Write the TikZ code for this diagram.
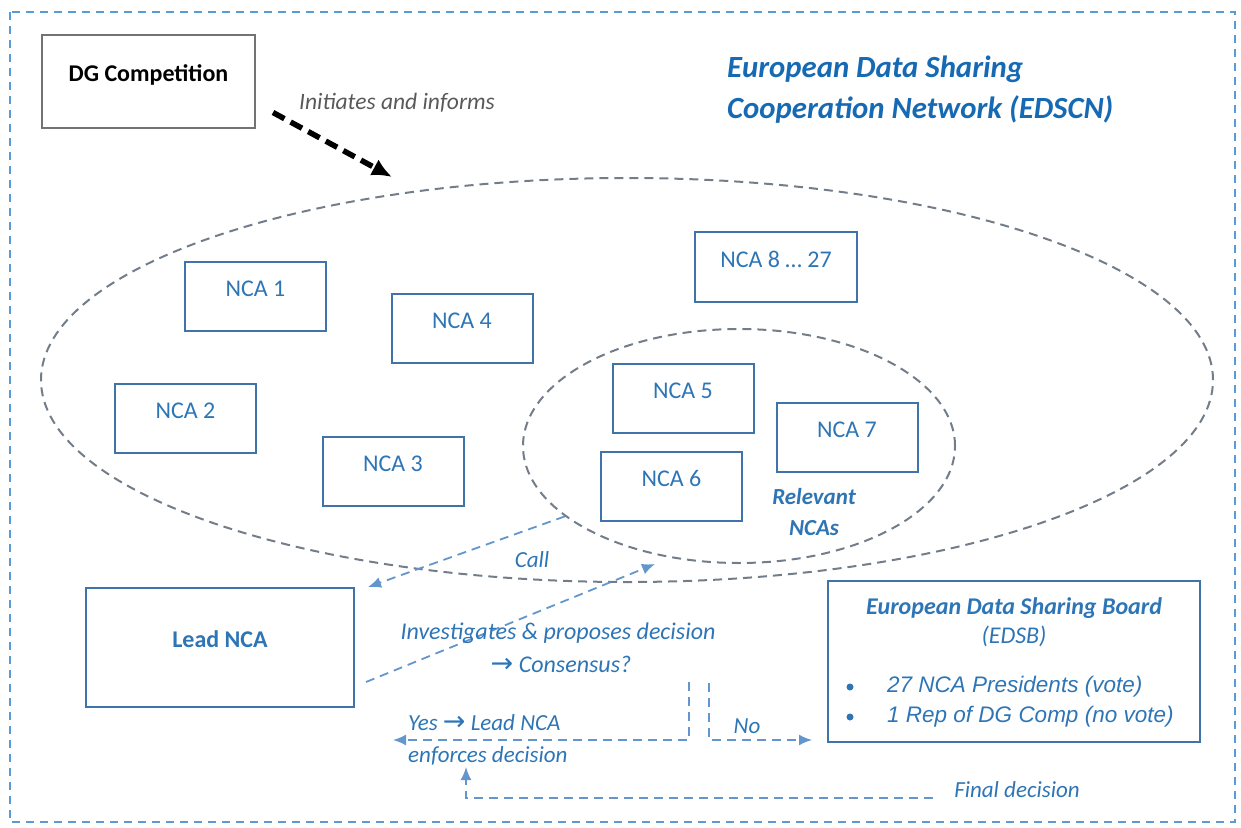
\documentclass[tikz,border=0pt]{standalone}
\usepackage{fontspec}
\setmainfont{Carlito}
\newfontfamily\arialfont{Liberation Sans}
\newfontfamily\arrowfont{DejaVu Sans}
\usetikzlibrary{shapes.geometric,arrows.meta}

\definecolor{ncablue}{RGB}{46,117,182}
\definecolor{boxblue}{RGB}{62,116,168}
\definecolor{ringgray}{RGB}{115,125,138}
\definecolor{flowblue}{RGB}{98,150,204}
\definecolor{frameblue}{RGB}{91,155,213}
\definecolor{titleblue}{RGB}{22,106,180}

\newcommand{\goesto}{{\arrowfont\fontsize{27}{28}\selectfont\upshape →}}

\tikzset{
  ncabox/.style={draw=boxblue,line width=2pt,minimum width=141pt,minimum height=69pt,
    inner sep=0pt,text=ncablue,font=\fontsize{24}{28}\selectfont,
    text height=16pt,text depth=16pt},
  ring/.style={ellipse,draw=ringgray,line width=2pt,dash pattern=on 9pt off 6pt,inner sep=0pt},
  flow/.style={draw=flowblue,line width=1.8pt,dash pattern=on 9pt off 6pt,
    -{Latex[length=13pt,width=11pt]}},
  lbl/.style={text=ncablue,inner sep=0pt,font=\fontsize{23}{28}\selectfont\itshape}
}

\begin{document}
\begin{tikzpicture}[x=1pt,y=-1pt]
\useasboundingbox (0,0) rectangle (1241,827);
\draw[frameblue,line width=1.8pt,dash pattern=on 8pt off 6pt] (10,12) rectangle (1235,822);

% network and the relevant authorities
\node[ring,minimum width=1172pt,minimum height=404pt] (edscn) at (627,380) {};
\node[ring,minimum width=432pt,minimum height=234pt] (relevant) at (739,446) {};

\node[anchor=base west,text=titleblue,inner sep=0pt,
      font=\fontsize{30.8}{36}\selectfont\bfseries\itshape] (title) at (727,77) {European Data Sharing};
\node[anchor=base west,text=titleblue,inner sep=0pt,
      font=\fontsize{30.8}{36}\selectfont\bfseries\itshape] (title2) at (727,118) {Cooperation Network (EDSCN)};

\foreach \n/\x/\y in {1/255.5/296, 2/185.5/418, 3/393/471.5, 4/462/328.5,
                      5/683/398, 6/671.5/486, 7/847/437}
    \node[ncabox] (nca\n) at (\x,\y) {NCA \n};
\node[ncabox,minimum width=162pt,minimum height=70pt] (nca8) at (776,267) {NCA 8 \dots\ 27};

\node[lbl,font=\fontsize{23}{31}\selectfont\bfseries\itshape,align=center] (rellbl) at (814,512) {Relevant\\NCAs};

% DG Competition
\node[draw=black!55,line width=2pt,minimum width=213pt,minimum height=93pt,inner sep=0pt,
      font=\fontsize{24}{28}\selectfont\bfseries,text height=16pt,text depth=16pt] (dg) at (148.5,81.5) {DG Competition};
\node[inner sep=0pt,text=black!65,font=\fontsize{23.5}{28}\selectfont\itshape] (initlbl) at (397,103) {Initiates and informs};
\coordinate (initend) at (392,177);
\draw[line width=5.5pt,dash pattern=on 13pt off 7pt,-{Latex[length=20pt,width=18pt]}]
    ([xshift=17pt,yshift=-31pt]dg.east) -- (initend);

% lead authority
\node[draw=boxblue,line width=2pt,minimum width=268pt,minimum height=119pt,inner sep=0pt,
      text=ncablue,font=\fontsize{24}{28}\selectfont\bfseries,
      text height=16pt,text depth=16pt] (lead) at (220,647.5) {Lead NCA};

\node[lbl] (calllbl) at (532,560) {Call};
\draw[flow] (relevant.202) -- ([xshift=13pt]lead.north east);

\coordinate (invend) at (655,564);
\draw[flow] ([xshift=11pt,yshift=-34.5pt]lead.east) -- (invend);
\node[lbl,font=\fontsize{24}{28}\selectfont\itshape] (invlbl) at (558,633) {Investigates \& proposes decision};
\node[lbl,font=\fontsize{24}{28}\selectfont\itshape] (conslbl) at (561,664) {\goesto\ Consensus?};

% board
\node[draw=boxblue,line width=2pt,minimum width=372pt,minimum height=161pt] (edsb) at (1014,661.5) {};
\node[lbl,font=\fontsize{24}{28}\selectfont\bfseries\itshape] (edsbtitle) at (1014,608) {European Data Sharing Board};
\node[lbl,font=\fontsize{24}{28}\selectfont\itshape] (edsbsub) at (1014,636) {(EDSB)};
\foreach \y/\t in {687/27 NCA Presidents (vote), 717/1 Rep of DG Comp (no vote)} {
    \fill[ncablue] (850,\y) circle (3.5pt);
    \node[lbl,anchor=west,font=\arialfont\fontsize{22.5}{27}\selectfont\itshape] (item\y) at (887,\y) {\t};
}

% outcome of the consensus
\coordinate (yestop) at (689,682);
\coordinate (notop) at (709,683);
\coordinate (yesend) at (393,740);
\coordinate (noend) at (812,740);
\draw[flow] (yestop) |- (yesend);
\draw[flow] (notop) |- (noend);
\node[lbl,anchor=west] (yeslbl) at (408,723) {Yes \goesto\ Lead NCA};
\node[lbl,anchor=west] (enflbl) at (408,756) {enforces decision};
\node[lbl] (nolbl) at (747,726) {No};

\node[lbl] (finallbl) at (1017,790) {Final decision};
\coordinate (finstart) at (933,798);
\coordinate (finend) at (466,767);
\draw[flow] (finstart) -| (finend);
\end{tikzpicture}
\end{document}
